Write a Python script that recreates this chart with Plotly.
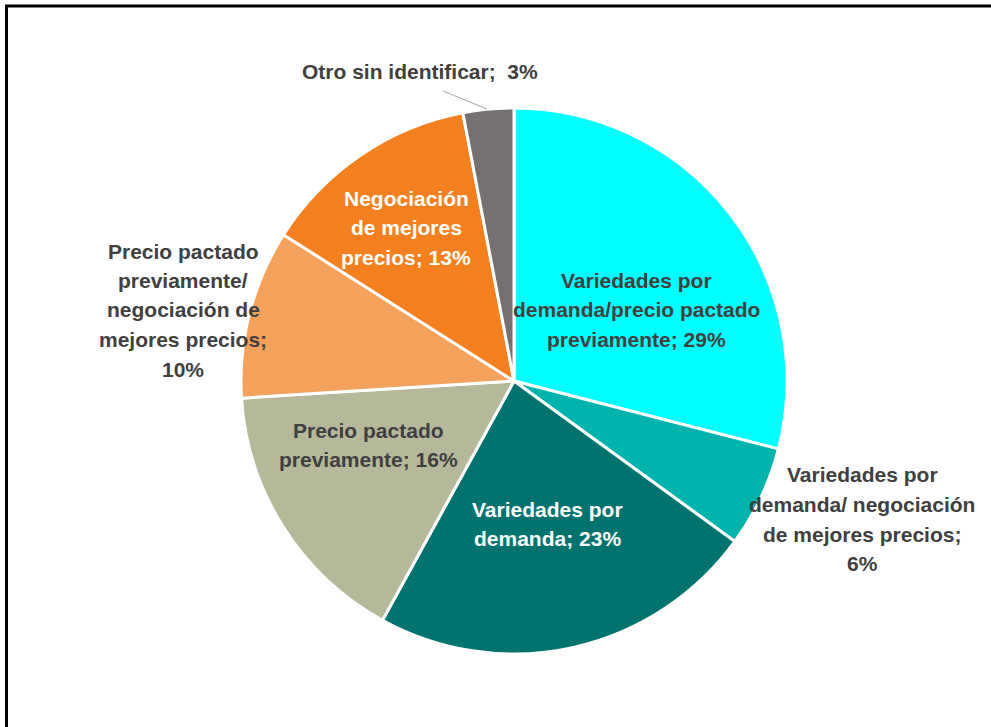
import plotly.graph_objects as go

# ---- data ----
categories = [
    "Variedades por demanda/precio pactado previamente",
    "Variedades por demanda/ negociación de mejores precios",
    "Variedades por demanda",
    "Precio pactado previamente",
    "Precio pactado previamente/ negociación de mejores precios",
    "Negociación de mejores precios",
    "Otro sin identificar",
]
values = [29, 6, 23, 16, 10, 13, 3]
colors = ["#00FFFF", "#00B3AD", "#00736F", "#B6B999", "#F4A25B", "#F47F1E", "#767171"]

# label text split into lines as in the reference
label_lines = [
    ["Variedades por", "demanda/precio pactado", "previamente; 29%"],
    ["Variedades por", "demanda/ negociación", "de mejores precios;", "6%"],
    ["Variedades por", "demanda; 23%"],
    ["Precio pactado", "previamente; 16%"],
    ["Precio pactado", "previamente/", "negociación de", "mejores precios;", "10%"],
    ["Negociación", "de mejores", "precios; 13%"],
    ["Otro sin identificar;  3%"],
]

# ---- layout / style ----
W, H = 991, 727
cx, cy, R = 514, 381, 273
label_pos = [  # (x center px, first line y px)
    (636, 280), (862, 475), (547, 509), (368, 430), (183, 251), (406, 198), (420, 71)
]
label_colors = ["#404040", "#404040", "#FFFFFF", "#404040", "#404040", "#FFFFFF", "#404040"]
line_step = 29.5
font_family = "Liberation Sans, Arial, sans-serif"

fig = go.Figure(go.Pie(
    labels=categories,
    values=values,
    sort=False,
    direction="clockwise",
    rotation=0,
    marker=dict(colors=colors, line=dict(color="white", width=3)),
    textinfo="none",
    hoverinfo="label+percent",
    showlegend=False,
    domain=dict(x=[(cx - R) / W, (cx + R) / W], y=[(H - cy - R) / H, (H - cy + R) / H]),
))

annotations = []
for lines, (px, py), col in zip(label_lines, label_pos, label_colors):
    for i, ln in enumerate(lines):
        annotations.append(dict(
            x=px / W, y=1 - (py + i * line_step) / H, xref="paper", yref="paper",
            text="<b>%s</b>" % ln, showarrow=False, xanchor="center", yanchor="middle",
            font=dict(family=font_family, size=21, color=col),
        ))

shapes = [
    # leader line for small slice
    dict(type="line", xref="paper", yref="paper", x0=443 / W, y0=1 - 91 / H, x1=487 / W, y1=1 - 109 / H,
         line=dict(color="#A6A6A6", width=1)),
    # frame (top and left edges)
    dict(type="line", xref="paper", yref="paper", x0=5 / W, y0=1 - 6 / H, x1=1, y1=1 - 6 / H,
         line=dict(color="black", width=3)),
    dict(type="line", xref="paper", yref="paper", x0=6.5 / W, y0=1 - 5 / H, x1=6.5 / W, y1=0,
         line=dict(color="black", width=3)),
]

fig.update_layout(
    width=W, height=H,
    margin=dict(l=0, r=0, t=0, b=0),
    paper_bgcolor="white", plot_bgcolor="white",
    annotations=annotations, shapes=shapes,
)

fig.write_html(
    "out.html",
    config={"displayModeBar": False},
    post_script="document.body.style.margin='0';document.body.style.padding='0';"
                "document.body.style.overflow='hidden';",
)
